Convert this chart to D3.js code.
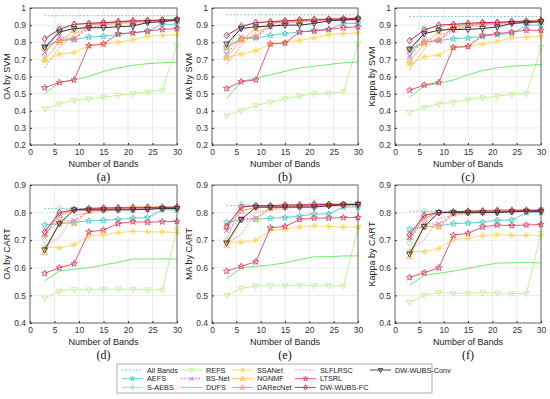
<!DOCTYPE html>
<html>
<head>
<meta charset="utf-8">
<script src="https://cdn.jsdelivr.net/npm/d3@7"></script>
<style>
  body { margin: 0; background: #fff; }
  svg text { font-family: "Liberation Sans", Arial, sans-serif; }
</style>
</head>
<body>
<div id="chart"></div>
<script>
const width = 550;
const height = 399;

const bands = [3, 6, 9, 12, 15, 18, 21, 24, 27, 30];

const methods = ["All Bands", "AEFS", "S-AEBS", "REFS", "BS-Net", "DUFS", "SSANet",
    "NGNMF", "DARecNet", "SLFLRSC", "LTSRL", "DW-WUBS-FC", "DW-WUBS-Conv"];
const colors = ["#4fb0e6", "#4cc9c6", "#8fe3b8", "#bdf08e", "#ff38ff", "#5ee85e", "#ffd45c",
    "#ffb648", "#ff8a58", "#ff8a8a", "#e0446a", "#c8205c", "#333333"];
const markers = ["none", "star", "diamond", "triDown", "x", "none", "asterisk",
    "triUp", "triUp", "none", "star", "diamond", "triDown"];
const dashes = ["1.5,2", null, null, null, "1.5,2", null, null, null, null, "2,1.5", null, null, null];

// one row per method, same order as `methods`
const oaSvm = [
    [0.955, 0.955, 0.955, 0.955, 0.955, 0.955, 0.955, 0.955, 0.955, 0.955],
    [0.78, 0.81, 0.815, 0.83, 0.835, 0.845, 0.855, 0.865, 0.905, 0.905],
    [0.72, 0.89, 0.90, 0.91, 0.915, 0.915, 0.92, 0.925, 0.925, 0.93],
    [0.41, 0.44, 0.46, 0.47, 0.48, 0.49, 0.50, 0.51, 0.52, 0.78],
    [0.74, 0.83, 0.82, 0.88, 0.905, 0.91, 0.915, 0.92, 0.92, 0.925],
    [0.50, 0.565, 0.58, 0.60, 0.63, 0.65, 0.665, 0.675, 0.68, 0.685],
    [0.69, 0.73, 0.74, 0.78, 0.79, 0.80, 0.815, 0.835, 0.84, 0.845],
    [0.70, 0.80, 0.87, 0.90, 0.91, 0.915, 0.92, 0.925, 0.93, 0.935],
    [0.77, 0.81, 0.82, 0.90, 0.91, 0.92, 0.925, 0.93, 0.93, 0.935],
    [0.65, 0.77, 0.85, 0.88, 0.90, 0.91, 0.915, 0.92, 0.925, 0.93],
    [0.535, 0.565, 0.58, 0.78, 0.79, 0.85, 0.855, 0.865, 0.875, 0.88],
    [0.82, 0.875, 0.905, 0.91, 0.915, 0.92, 0.925, 0.925, 0.93, 0.93],
    [0.77, 0.86, 0.88, 0.885, 0.885, 0.89, 0.895, 0.915, 0.92, 0.93]
];
const maSvm = [
    [0.96, 0.96, 0.96, 0.96, 0.96, 0.96, 0.96, 0.96, 0.96, 0.96],
    [0.77, 0.82, 0.825, 0.84, 0.85, 0.86, 0.87, 0.875, 0.91, 0.91],
    [0.75, 0.90, 0.91, 0.92, 0.925, 0.93, 0.93, 0.935, 0.935, 0.94],
    [0.37, 0.40, 0.43, 0.45, 0.47, 0.485, 0.50, 0.50, 0.51, 0.79],
    [0.73, 0.83, 0.83, 0.89, 0.91, 0.92, 0.925, 0.925, 0.93, 0.93],
    [0.47, 0.57, 0.59, 0.61, 0.63, 0.65, 0.66, 0.67, 0.68, 0.685],
    [0.71, 0.73, 0.75, 0.79, 0.80, 0.81, 0.825, 0.845, 0.85, 0.855],
    [0.71, 0.81, 0.88, 0.91, 0.92, 0.925, 0.93, 0.935, 0.94, 0.94],
    [0.77, 0.82, 0.83, 0.91, 0.92, 0.93, 0.935, 0.935, 0.94, 0.94],
    [0.67, 0.78, 0.86, 0.89, 0.91, 0.92, 0.925, 0.93, 0.935, 0.935],
    [0.53, 0.57, 0.58, 0.79, 0.795, 0.86, 0.865, 0.875, 0.885, 0.89],
    [0.84, 0.89, 0.915, 0.92, 0.925, 0.93, 0.93, 0.935, 0.935, 0.94],
    [0.79, 0.88, 0.89, 0.895, 0.90, 0.90, 0.91, 0.925, 0.93, 0.935]
];
const kappaSvm = [
    [0.95, 0.95, 0.95, 0.95, 0.95, 0.95, 0.95, 0.95, 0.95, 0.95],
    [0.75, 0.80, 0.81, 0.82, 0.825, 0.835, 0.845, 0.85, 0.90, 0.90],
    [0.70, 0.88, 0.89, 0.90, 0.905, 0.91, 0.915, 0.915, 0.92, 0.925],
    [0.39, 0.42, 0.44, 0.45, 0.465, 0.475, 0.485, 0.495, 0.50, 0.77],
    [0.72, 0.815, 0.81, 0.87, 0.895, 0.905, 0.91, 0.915, 0.915, 0.92],
    [0.48, 0.545, 0.56, 0.58, 0.61, 0.635, 0.65, 0.66, 0.665, 0.67],
    [0.67, 0.715, 0.725, 0.77, 0.775, 0.79, 0.805, 0.825, 0.83, 0.835],
    [0.69, 0.79, 0.86, 0.89, 0.90, 0.91, 0.915, 0.92, 0.925, 0.925],
    [0.76, 0.80, 0.81, 0.89, 0.90, 0.91, 0.915, 0.92, 0.925, 0.93],
    [0.64, 0.76, 0.84, 0.87, 0.89, 0.90, 0.905, 0.91, 0.915, 0.92],
    [0.52, 0.55, 0.565, 0.77, 0.775, 0.84, 0.85, 0.86, 0.87, 0.87],
    [0.81, 0.87, 0.90, 0.905, 0.91, 0.915, 0.915, 0.92, 0.92, 0.925],
    [0.76, 0.85, 0.87, 0.875, 0.875, 0.88, 0.89, 0.91, 0.915, 0.92]
];
const oaCart = [
    [0.815, 0.815, 0.815, 0.815, 0.815, 0.815, 0.815, 0.815, 0.815, 0.815],
    [0.755, 0.76, 0.765, 0.77, 0.772, 0.775, 0.78, 0.782, 0.81, 0.81],
    [0.70, 0.815, 0.81, 0.81, 0.812, 0.815, 0.815, 0.815, 0.815, 0.815],
    [0.49, 0.515, 0.522, 0.52, 0.522, 0.523, 0.522, 0.52, 0.52, 0.74],
    [0.72, 0.77, 0.77, 0.805, 0.81, 0.81, 0.81, 0.812, 0.815, 0.82],
    [0.553, 0.588, 0.595, 0.60, 0.61, 0.62, 0.632, 0.632, 0.632, 0.632],
    [0.675, 0.672, 0.683, 0.715, 0.72, 0.728, 0.732, 0.73, 0.73, 0.728],
    [0.655, 0.765, 0.76, 0.805, 0.81, 0.815, 0.82, 0.82, 0.82, 0.82],
    [0.72, 0.79, 0.81, 0.81, 0.815, 0.818, 0.82, 0.82, 0.82, 0.82],
    [0.68, 0.71, 0.79, 0.80, 0.805, 0.81, 0.815, 0.815, 0.815, 0.815],
    [0.58, 0.60, 0.615, 0.73, 0.737, 0.76, 0.767, 0.765, 0.767, 0.768],
    [0.73, 0.80, 0.81, 0.815, 0.817, 0.817, 0.817, 0.818, 0.818, 0.82],
    [0.665, 0.76, 0.81, 0.81, 0.81, 0.81, 0.81, 0.812, 0.815, 0.815]
];
const maCart = [
    [0.825, 0.825, 0.825, 0.825, 0.825, 0.825, 0.825, 0.825, 0.825, 0.825],
    [0.765, 0.775, 0.775, 0.78, 0.782, 0.787, 0.795, 0.795, 0.82, 0.82],
    [0.70, 0.83, 0.825, 0.825, 0.825, 0.825, 0.825, 0.828, 0.83, 0.83],
    [0.50, 0.525, 0.535, 0.535, 0.535, 0.537, 0.535, 0.535, 0.533, 0.745],
    [0.735, 0.78, 0.78, 0.815, 0.82, 0.822, 0.823, 0.825, 0.825, 0.83],
    [0.56, 0.60, 0.605, 0.61, 0.618, 0.63, 0.64, 0.64, 0.643, 0.643],
    [0.695, 0.692, 0.70, 0.735, 0.74, 0.748, 0.752, 0.75, 0.748, 0.748],
    [0.68, 0.775, 0.775, 0.815, 0.82, 0.825, 0.835, 0.83, 0.83, 0.83],
    [0.745, 0.805, 0.82, 0.82, 0.825, 0.825, 0.83, 0.83, 0.83, 0.83],
    [0.69, 0.72, 0.80, 0.81, 0.815, 0.82, 0.822, 0.825, 0.825, 0.825],
    [0.588, 0.605, 0.622, 0.745, 0.75, 0.775, 0.78, 0.78, 0.782, 0.782],
    [0.75, 0.82, 0.825, 0.825, 0.828, 0.828, 0.828, 0.83, 0.83, 0.83],
    [0.69, 0.775, 0.82, 0.82, 0.82, 0.82, 0.82, 0.825, 0.828, 0.83]
];
const kappaCart = [
    [0.805, 0.805, 0.805, 0.805, 0.805, 0.805, 0.805, 0.805, 0.805, 0.805],
    [0.74, 0.748, 0.752, 0.76, 0.762, 0.765, 0.772, 0.773, 0.80, 0.80],
    [0.69, 0.805, 0.80, 0.80, 0.802, 0.805, 0.805, 0.805, 0.805, 0.805],
    [0.475, 0.50, 0.51, 0.507, 0.508, 0.51, 0.508, 0.507, 0.507, 0.725],
    [0.71, 0.76, 0.758, 0.795, 0.80, 0.80, 0.80, 0.802, 0.805, 0.81],
    [0.537, 0.573, 0.58, 0.588, 0.598, 0.608, 0.617, 0.618, 0.62, 0.617],
    [0.66, 0.658, 0.67, 0.703, 0.707, 0.717, 0.72, 0.718, 0.718, 0.716],
    [0.64, 0.75, 0.748, 0.795, 0.80, 0.805, 0.81, 0.808, 0.808, 0.808],
    [0.71, 0.78, 0.80, 0.80, 0.805, 0.808, 0.81, 0.81, 0.81, 0.81],
    [0.665, 0.70, 0.78, 0.79, 0.795, 0.80, 0.803, 0.805, 0.805, 0.805],
    [0.565, 0.582, 0.60, 0.718, 0.725, 0.748, 0.755, 0.753, 0.755, 0.757],
    [0.72, 0.79, 0.80, 0.803, 0.805, 0.805, 0.805, 0.806, 0.807, 0.808],
    [0.65, 0.75, 0.80, 0.80, 0.80, 0.80, 0.80, 0.803, 0.805, 0.805]
];

const xTicks = [0, 5, 10, 15, 20, 25, 30];
const yTicksSvm = [0.2, 0.3, 0.4, 0.5, 0.6, 0.7, 0.8, 0.9, 1];
const yTicksCart = [0.4, 0.5, 0.6, 0.7, 0.8, 0.9];

const panels = [
    { data: oaSvm, ylabel: "OA by SVM", tag: "(a)", ticks: yTicksSvm, col: 0, row: 0 },
    { data: maSvm, ylabel: "MA by SVM", tag: "(b)", ticks: yTicksSvm, col: 1, row: 0 },
    { data: kappaSvm, ylabel: "Kappa by SVM", tag: "(c)", ticks: yTicksSvm, col: 2, row: 0 },
    { data: oaCart, ylabel: "OA by CART", tag: "(d)", ticks: yTicksCart, col: 0, row: 1 },
    { data: maCart, ylabel: "MA by CART", tag: "(e)", ticks: yTicksCart, col: 1, row: 1 },
    { data: kappaCart, ylabel: "Kappa by CART", tag: "(f)", ticks: yTicksCart, col: 2, row: 1 }
];

const colX = [[30, 177], [212, 358], [395, 541]];
const rowY = [[8, 145], [185, 323]];

const svg = d3.select("#chart")
    .append("svg")
    .attr("width", width)
    .attr("height", height);

function markerPath(type, r) {
    if (type === "diamond") {
        return `M0,${-r}L${r * 0.75},0L0,${r}L${-r * 0.75},0Z`;
    }
    if (type === "triUp") {
        return `M0,${-r}L${r * 0.87},${r * 0.6}L${-r * 0.87},${r * 0.6}Z`;
    }
    if (type === "triDown") {
        return `M0,${r}L${r * 0.87},${-r * 0.6}L${-r * 0.87},${-r * 0.6}Z`;
    }
    if (type === "x") {
        const a = r * 0.75;
        return `M${-a},${-a}L${a},${a}M${-a},${a}L${a},${-a}`;
    }
    if (type === "asterisk") {
        const a = r * 0.7;
        return `M0,${-r}L0,${r}M${-r},0L${r},0M${-a},${-a}L${a},${a}M${-a},${a}L${a},${-a}`;
    }
    if (type === "star") {
        let p = "";
        for (let i = 0; i < 10; i++) {
            const rr = i % 2 === 0 ? r : r * 0.42;
            const ang = -Math.PI / 2 + i * Math.PI / 5;
            p += (i === 0 ? "M" : "L") + (rr * Math.cos(ang)).toFixed(2) + "," + (rr * Math.sin(ang)).toFixed(2);
        }
        return p + "Z";
    }
    return null;
}

panels.forEach(p => {
    const [x0, x1] = colX[p.col];
    const [y0, y1] = rowY[p.row];
    const x = d3.scaleLinear().domain([0, 30]).range([x0, x1]);
    const y = d3.scaleLinear().domain([p.ticks[0], p.ticks[p.ticks.length - 1]]).range([y1, y0]);

    const g = svg.append("g");

    // grid
    g.selectAll(".gx").data(xTicks).join("line")
        .attr("x1", d => x(d)).attr("x2", d => x(d))
        .attr("y1", y0).attr("y2", y1)
        .attr("stroke", "#e3e3e3").attr("stroke-width", 0.7);
    g.selectAll(".gy").data(p.ticks).join("line")
        .attr("x1", x0).attr("x2", x1)
        .attr("y1", d => y(d)).attr("y2", d => y(d))
        .attr("stroke", "#e3e3e3").attr("stroke-width", 0.7);

    // series
    const line = d3.line().x((d, i) => x(bands[i])).y(d => y(d));
    p.data.forEach((vals, k) => {
        g.append("path")
            .attr("d", line(vals))
            .attr("fill", "none")
            .attr("stroke", colors[k])
            .attr("stroke-width", k >= 11 ? 1 : 0.9)
            .attr("stroke-dasharray", dashes[k]);
        const mp = markerPath(markers[k], 3.3);
        if (mp) {
            g.selectAll(null).data(vals).join("path")
                .attr("transform", (d, i) => `translate(${x(bands[i])},${y(d)})`)
                .attr("d", mp)
                .attr("fill", "none")
                .attr("stroke", colors[k])
                .attr("stroke-width", 0.9);
        }
    });

    // axes
    const ax = g.append("g").attr("transform", `translate(0,${y1})`)
        .call(d3.axisBottom(x).tickValues(xTicks).tickSize(-2).tickPadding(4).tickFormat(d3.format("d")));
    const ay = g.append("g").attr("transform", `translate(${x0},0)`)
        .call(d3.axisLeft(y).tickValues(p.ticks).tickSize(-2).tickPadding(4).tickFormat(d => d === 1 ? "1" : d3.format(".1f")(d)));
    [ax, ay].forEach(a => {
        a.select(".domain").remove();
        a.selectAll("line").attr("stroke", "#333");
        a.selectAll("text").attr("fill", "#333").style("font-size", "8.5px");
    });
    g.append("rect")
        .attr("x", x0).attr("y", y0)
        .attr("width", x1 - x0).attr("height", y1 - y0)
        .attr("fill", "none").attr("stroke", "#333").attr("stroke-width", 0.7);

    g.append("text")
        .attr("transform", `translate(${x0 - 20},${(y0 + y1) / 2}) rotate(-90)`)
        .attr("text-anchor", "middle")
        .attr("fill", "#222")
        .style("font-size", "9px")
        .text(p.ylabel);
    g.append("text")
        .attr("x", (x0 + x1) / 2).attr("y", y1 + 22)
        .attr("text-anchor", "middle")
        .attr("fill", "#222")
        .style("font-size", "9px")
        .text("Number of Bands");
    g.append("text")
        .attr("x", (x0 + x1) / 2).attr("y", y1 + 36)
        .attr("text-anchor", "middle")
        .attr("fill", "#111")
        .style("font-family", "'Liberation Serif', 'Times New Roman', serif")
        .style("font-size", "12px")
        .text(p.tag);
});

// legend
const legend = svg.append("g");
legend.append("rect")
    .attr("x", 117).attr("y", 364).attr("width", 315).attr("height", 29)
    .attr("fill", "#fff").attr("stroke", "#999").attr("stroke-width", 0.8);
const legColX = [122, 181, 232, 295, 370];
methods.forEach((m, k) => {
    const c = Math.floor(k / 3);
    const r = k % 3;
    const lx = legColX[c];
    const ly = 370 + r * 8.7;
    const item = legend.append("g");
    item.append("line")
        .attr("x1", lx).attr("x2", lx + 21)
        .attr("y1", ly).attr("y2", ly)
        .attr("stroke", colors[k]).attr("stroke-width", 0.9)
        .attr("stroke-dasharray", dashes[k]);
    const mp = markerPath(markers[k], 2.6);
    if (mp) {
        item.append("path")
            .attr("transform", `translate(${lx + 10.5},${ly})`)
            .attr("d", mp)
            .attr("fill", "none").attr("stroke", colors[k]).attr("stroke-width", 0.9);
    }
    item.append("text")
        .attr("x", lx + 25).attr("y", ly + 2.6)
        .attr("fill", "#222")
        .style("font-size", "7.3px")
        .text(m);
});
</script>
</body>
</html>
